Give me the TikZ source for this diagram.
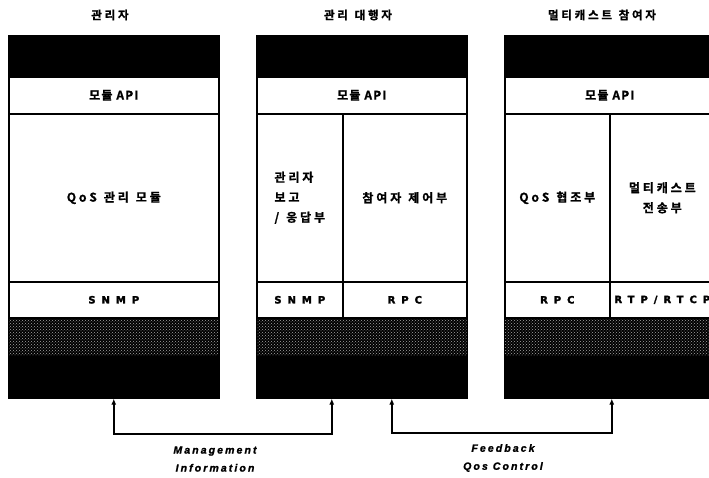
\documentclass[tikz,border=0pt]{standalone}
\usepackage{fontspec}
\newfontfamily\kofont[LetterSpace=10,FakeBold=1.2]{Noto Sans CJK KR Bold}
\newfontfamily\kowide[LetterSpace=24,WordSpace=1.25,FakeBold=1.2]{Noto Sans CJK KR Bold}
\newfontfamily\capfont[LetterSpace=60,FakeBold=2.5]{DejaVu Sans Bold}
\newfontfamily\itfont[LetterSpace=20,FakeBold=1.5]{Liberation Sans Bold Italic}
\usetikzlibrary{arrows.meta,patterns}

\begin{document}
\begin{tikzpicture}[x=1pt,y=-1pt,
  layer/.style={draw=black,line width=1.6pt,anchor=north west,inner sep=0pt},
  band/.style={layer,fill=black,minimum width=210pt,minimum height=41pt},
  apirow/.style={layer,minimum width=210pt,minimum height=37pt,font=\kofont\fontsize{12}{13}\selectfont},
  cell/.style={layer,minimum height=168pt,align=center,font=\kowide\fontsize{12}{20}\selectfont},
  proto/.style={layer,minimum height=36pt,font=\capfont\fontsize{10}{12}\selectfont},
  base/.style={layer,fill=black,minimum width=210pt,minimum height=80pt},
  title/.style={font=\kowide\fontsize{11.5}{13}\selectfont},
  link/.style={{Latex[length=6pt,width=5pt]}-{Latex[length=6pt,width=5pt]},line width=1.8pt},
  linklabel/.style={align=center,font=\itfont\fontsize{10.5}{18}\selectfont}]
\clip (0,0) rectangle (709,478);
\fill[white] (0,0) rectangle (709,478);

% titles
\node [title] (mgr-title) at (110,15) {관리자};
\node [title] (agt-title) at (358,15) {관리 대행자};
\node [title] (mcp-title) at (602,15) {멀티캐스트 참여자};

% common rows of the three stacks
\foreach \n/\x in {mgr/8,agt/256,mcp/504}{
  \node [band] (\n-band) at (\x,35) {};
  \node [apirow] (\n-api) at (\x,76) {모듈 API};
  \node [base] (\n-base) at (\x,317) {};
  \fill [pattern=crosshatch dots,pattern color=gray!70] ([xshift=1pt,yshift=-1pt]\n-base.north west) rectangle ([xshift=-1pt,yshift=-38pt]\n-base.north east);
}

% manager
\node [cell,minimum width=210pt] (mgr-mod) at (8,113) {QoS 관리 모듈};
\node [proto,minimum width=210pt] (mgr-snmp) at (8,281) {SNMP};

% agent
\node [cell,minimum width=86pt,align=left] (agt-rep) at (256,113) {관리자\\보고\\/ 응답부};
\node [cell,minimum width=124pt] (agt-ctl) at (342,113) {참여자 제어부};
\node [proto,minimum width=86pt] (agt-snmp) at (256,281) {SNMP};
\node [proto,minimum width=124pt] (agt-rpc) at (342,281) {RPC};

% multicast participant
\node [cell,minimum width=105pt] (mcp-qos) at (504,113) {QoS 협조부};
\node [cell,minimum width=105pt] (mcp-tx) at (609,113) {멀티캐스트\\전송부};
\node [proto,minimum width=105pt] (mcp-rpc) at (504,281) {RPC};
\node [proto,minimum width=105pt] (mcp-rtp) at (609,281) {RTP/RTCP};

% links
\draw [link] (mgr-base.south) -- ++(0,35) -| ([xshift=-30pt]agt-base.south);
\draw [link] ([xshift=30pt]agt-base.south) -- ++(0,34) -| ([xshift=2pt]mcp-base.south);
\node [linklabel] (mi-label) at (215,459) {Management\\Information};
\node [linklabel] (fb-label) at (503,458) {Feedback\\Qos Control};
\end{tikzpicture}
\end{document}
